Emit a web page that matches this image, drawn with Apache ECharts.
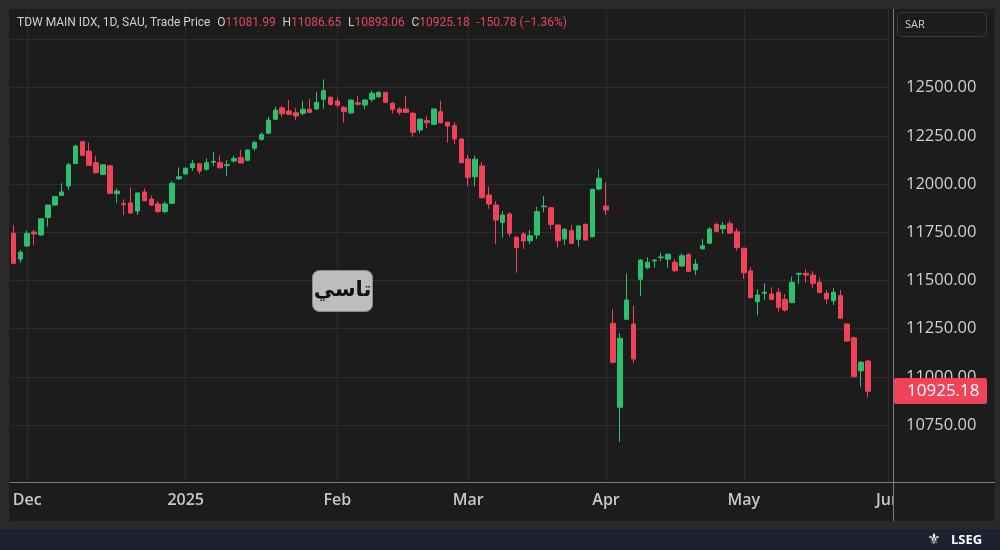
<!DOCTYPE html>
<html><head><meta charset="utf-8">
<script src="https://cdn.jsdelivr.net/npm/echarts@6/dist/echarts.min.js"></script>
<style>html,body{margin:0;padding:0;background:#1c1c1c;}#c{width:1000px;height:550px;}</style>
</head><body><div id="c"></div>
<script>
const dates = [
'2024-11-27','2024-11-28',
'2024-12-01','2024-12-02','2024-12-03','2024-12-04','2024-12-05','2024-12-08','2024-12-09','2024-12-10','2024-12-11','2024-12-12',
'2024-12-15','2024-12-16','2024-12-17','2024-12-18','2024-12-19','2024-12-22','2024-12-23','2024-12-24','2024-12-25','2024-12-26',
'2024-12-29','2024-12-30','2024-12-31',
'2025-01-01','2025-01-02','2025-01-05','2025-01-06','2025-01-07','2025-01-08','2025-01-09','2025-01-12','2025-01-13','2025-01-14',
'2025-01-15','2025-01-16','2025-01-19','2025-01-20','2025-01-21','2025-01-22','2025-01-23','2025-01-26','2025-01-27','2025-01-28',
'2025-01-29','2025-01-30',
'2025-02-02','2025-02-03','2025-02-04','2025-02-05','2025-02-06','2025-02-09','2025-02-10','2025-02-11','2025-02-12','2025-02-13',
'2025-02-16','2025-02-17','2025-02-18','2025-02-19','2025-02-20','2025-02-24','2025-02-25','2025-02-26','2025-02-27',
'2025-03-02','2025-03-03','2025-03-04','2025-03-05','2025-03-06','2025-03-09','2025-03-10','2025-03-11','2025-03-12','2025-03-13',
'2025-03-16','2025-03-17','2025-03-18','2025-03-19','2025-03-20','2025-03-23','2025-03-24','2025-03-25','2025-03-26','2025-03-27',
'2025-04-03','2025-04-06','2025-04-07','2025-04-08','2025-04-09','2025-04-10','2025-04-13','2025-04-14','2025-04-15','2025-04-16',
'2025-04-17','2025-04-20','2025-04-21','2025-04-22','2025-04-23','2025-04-24','2025-04-27','2025-04-28','2025-04-29','2025-04-30',
'2025-05-01','2025-05-04','2025-05-05','2025-05-06','2025-05-07','2025-05-08','2025-05-11','2025-05-12','2025-05-13','2025-05-14',
'2025-05-15','2025-05-18','2025-05-19','2025-05-20','2025-05-21','2025-05-22','2025-05-25','2025-05-26','2025-05-27','2025-05-28',
'2025-05-29','2025-06-01'
];
const opens = [
11744.6,11611,11679,11751,11736,11827,11891,11941,11990,12107,
12220,12171,12111,12050,12095,11950,11898,11902,11860,11959,
11922,11897,11857,11900,12028,12052,12085,12106,12077,12113,
12111,12096,12120,12137,12123,12186,12232,12263.5,12336,12394.7,
12379,12370,12367,12388,12389.5,12440,12450,12431,12398,12370,
12422,12410,12440,12453,12476,12419,12389.5,12389.5,12367,12280.6,
12329,12310,12375.5,12320.5,12303,12234,12130,12038,12093.8,11943,
11891.5,11801.7,11844.8,11724,11741,11706,11735.8,11882.6,11877.5,11787.7,
11715,11758,11713.5,11791,11727,11974.5,11886,11277.7,10842,11298.5,
11274,11506,11566,11601,11618,11610,11594,11575,11633.6,11556,
11664.8,11692.7,11791,11768,11794,11753,11667,11549,11390,11433.4,
11429.7,11438.6,11402,11384.6,11532,11537,11528,11490.4,11433.4,11395,
11421,11274,11203,11031.8,11081.99
];
const highs = [
11787.7,11658,11758,11762,11822,11893,11940,12004,12111,12204,
12224,12215,12147,12104,12099,11978,11921,11983,11957,11978,
11940,11912,11909,12016,12087,12087,12125,12108,12134,12166,
12149,12125,12146,12177,12180,12225,12269,12350,12401.5,12405,
12436,12395,12432.5,12441,12479,12543.6,12456,12450,12405,12440,
12457,12441,12484.5,12481,12478,12427,12398,12457,12374,12341,
12353,12393,12432.5,12324,12320,12237.5,12151,12147,12114.5,11986.4,
11912,11860,11853.6,11730.6,11753,11761.8,11882.6,11938,11882.6,11791,
11772,11787.7,11787.7,11796,11976,12078,12009,11350.4,11226,11537,
11369,11611,11620,11611,11644,11639,11611,11641,11641,11611,
11715,11777,11799.6,11803,11810,11770.5,11670,11568,11454,11485,
11464,11459,11429.7,11519.5,11537,11558,11549,11514,11450.5,11459,
11450.5,11277.7,11208,11082,11086.65
];
const lows = [
11585,11592,11675,11684,11731,11779,11886,11938,11969,12104,
12146,12094,12056,12047,11948,11904,11840,11846,11840,11910,
11888,11851,11848,11897,12021,12049,12069,12052,12069,12094,
12080,12043,12111,12108,12120,12173,12225,12260,12332,12350,
12358,12332,12357,12370,12384,12391,12406.6,12396,12318.5,12362,
12406.6,12388,12427,12448,12419,12367,12358.4,12370,12246,12266,
12289,12306,12315,12215,12206,12108,11989,11989,11927.7,11872,
11687.6,11721.8,11727,11540,11663,11689,11715,11853.6,11765.4,11670,
11684,11689,11675,11706,11724,11969,11839.6,11070,10662,11295,
11070,11419,11558,11566,11599,11566,11545,11571,11544,11528,
11658,11689,11751,11741,11741,11654,11507.5,11407,11319,11398.6,
11398.6,11338,11338,11384.6,11481.6,11488,11462,11433,11376,11372.6,
11303.6,11180.7,10999,10948.7,10893.06
];
const closes = [
11589,11646,11744.6,11741,11820,11891,11934.5,11959,12100,12197,
12149,12097,12059,12100,11952,11964,11893,11850,11954,11914,
11891,11857,11897,12004,12038,12082,12106,12068,12111,12118,
12085,12101,12132,12109,12177,12215,12258,12332,12384,12365,
12362,12353,12388,12372,12424,12484.5,12414,12409,12375.5,12436,
12414,12436,12471,12476,12424,12388,12372,12372,12268.6,12336,
12318.5,12389.5,12318.5,12301,12234,12111,12035,12128.6,11929,11896.6,
11813.6,11839.6,11744.6,11670,11704.7,11732,11856.7,11886,11791,11706,
11765.4,11692.7,11782.5,11709.9,11973,12030,11865.5,11075.4,11200,11398.6,
11092.5,11606,11594,11606,11622,11636,11550.6,11628,11547.5,11585,
11680,11767,11755,11786,11746,11670,11540,11410.5,11424.5,11438.6,
11402,11360.7,11346.7,11490.4,11537,11528,11485,11438.6,11404,11438.6,
11303.6,11185.9,11000.7,11075.96,10925.18
];
const monthTickDates = ['2024-12-01','2025-01-01','2025-02-02','2025-03-02','2025-04-03','2025-05-01','2025-06-01'];
const monthTickLabels = ['Dec','2025','Feb','Mar','Apr','May','Jun'];
const yGridTicks = [10750,11000,11250,11500,11750,12000,12250,12500,12750];
const yLabelTicks = [10750,11000,11250,11500,11750,12000,12250,12500];
const yMin = 10454.4, yMax = 12903.1;

const UP = '#2bc06c', DOWN = '#f0435a';
const n = closes.length;
const candleData = dates.map((d, i) => i < n ? [opens[i], closes[i], lows[i], highs[i]] : '-');
const labelOf = {};
monthTickDates.forEach((d, i) => { labelOf[d] = monthTickLabels[i]; });
const lastC = closes[n - 1], prevC = closes[n - 2];
const chg = lastC - prevC, pct = chg / prevC * 100;
const fmt = v => v.toFixed(2);

const chart = echarts.init(document.getElementById('c'), null, {renderer: 'canvas'});
const FRAME = '#2a2a2a', AXIS = '#7c7c7c';
const option = {
  animation: false,
  backgroundColor: '#1c1c1c',
  grid: {left: 10, right: 108, top: 10, bottom: 68},
  xAxis: {
    type: 'category', data: dates, boundaryGap: true,
    axisLine: {lineStyle: {color: AXIS, width: 1}},
    axisTick: {show: false},
    splitLine: {show: false},
    axisLabel: {
      interval: (i, v) => labelOf[v] !== undefined,
      formatter: v => labelOf[v] || '',
      color: '#c8c8c8', fontSize: 16, fontWeight: 600, fontFamily: 'Open Sans', margin: 10
    }
  },
  yAxis: {
    type: 'value', position: 'right', min: yMin, max: yMax,
    axisLine: {show: false},
    axisTick: {show: false, customValues: yGridTicks},
    splitLine: {show: true, lineStyle: {color: '#2c2c2c', width: 1}},
    axisLabel: {customValues: yLabelTicks, formatter: v => fmt(v), color: '#d0d0d0',
      fontSize: 16.5, fontFamily: 'Open Sans', margin: 14, align: 'left'}
  },
  series: [
    {
      type: 'line', data: [], z: 1, silent: true,
      markLine: {
        silent: true, z: 1, symbol: ['none', 'none'], label: {show: false}, animation: false,
        lineStyle: {color: '#2c2c2c', width: 1, type: 'solid'},
        data: monthTickDates.map(d => ({xAxis: d}))
      }
    },
    {
      type: 'candlestick', data: candleData, barWidth: 5, z: 3,
      itemStyle: {color: UP, color0: DOWN, borderColor: UP, borderColor0: DOWN, borderWidth: 1}
    }
  ],
  graphic: [
    {type: 'rect', z: 100, shape: {x: 0, y: 0, width: 1000, height: 9}, style: {fill: FRAME}},
    {type: 'rect', z: 100, shape: {x: 0, y: 0, width: 9, height: 528}, style: {fill: FRAME}},
    {type: 'rect', z: 100, shape: {x: 995, y: 0, width: 5, height: 528}, style: {fill: FRAME}},
    {type: 'rect', z: 100, shape: {x: 0, y: 521, width: 1000, height: 8}, style: {fill: FRAME}},
    {type: 'rect', z: 100, shape: {x: 0, y: 529, width: 1000, height: 21}, style: {fill: '#1e2230'}},
    {type: 'rect', z: 99, shape: {x: 893, y: 483, width: 102, height: 38}, style: {fill: '#1c1c1c'}},
    {type: 'line', z: 101, shape: {x1: 893.5, y1: 9, x2: 893.5, y2: 521}, style: {stroke: AXIS, lineWidth: 1}},
    {type: 'line', z: 101, shape: {x1: 892, y1: 482.5, x2: 995, y2: 482.5}, style: {stroke: AXIS, lineWidth: 1}},
    {type: 'rect', z: 101, shape: {x: 897.5, y: 12.5, width: 89, height: 24, r: 4}, style: {fill: '#1c1c1c', stroke: '#3c3c3c', lineWidth: 1}},
    {type: 'text', z: 102, x: 905, y: 25, style: {text: 'SAR', fill: '#cfcfcf', font: '11px "Open Sans"', verticalAlign: 'middle'}},
    {type: 'text', z: 102, x: 17, y: 23, style: {
      text: '{g|TDW MAIN IDX, 1D, SAU, Trade Price}  {g|O}{r|' + fmt(opens[n-1]) + '}  {g|H}{r|' + fmt(highs[n-1]) +
            '}  {g|L}{r|' + fmt(lows[n-1]) + '}  {g|C}{r|' + fmt(lastC) + '}  {r|' + fmt(chg) + ' (\u2212' + Math.abs(pct).toFixed(2) + '%)}',
      verticalAlign: 'middle',
      rich: {
        g: {fill: '#cfcfcf', fontSize: 12, fontFamily: 'Roboto'},
        r: {fill: '#e5485c', fontSize: 12, fontFamily: 'Roboto'}
      }
    }},
    {type: 'rect', z: 102, shape: {x: 312.5, y: 270.5, width: 60, height: 41, r: 7}, style: {fill: '#bdbdbd', stroke: '#8a8a8a', lineWidth: 1}},
    {type: 'text', z: 103, x: 342.5, y: 291, style: {text: 'تاسي', fill: '#111111', font: 'bold 21px "DejaVu Sans"', align: 'center', verticalAlign: 'middle'}},
    {type: 'text', z: 102, x: 951, y: 540, style: {text: 'LSEG', fill: '#ffffff', font: 'bold 13px "Open Sans"', verticalAlign: 'middle'}},
    {type: 'text', z: 102, x: 934, y: 540, style: {text: '\u269C', fill: '#ffffff', font: '15px "DejaVu Sans"', align: 'center', verticalAlign: 'middle'}}
  ]
};
chart.setOption(option);
const py = chart.convertToPixel({yAxisIndex: 0}, lastC);
chart.setOption({graphic: option.graphic.concat([
  {type: 'rect', z: 110, shape: {x: 894, y: Math.round(py) - 13, width: 93, height: 26, r: 2}, style: {fill: DOWN}},
  {type: 'text', z: 111, x: 907, y: py, style: {text: fmt(lastC), fill: '#ffffff', font: '17px "Open Sans"', verticalAlign: 'middle'}}
])});
</script></body></html>
